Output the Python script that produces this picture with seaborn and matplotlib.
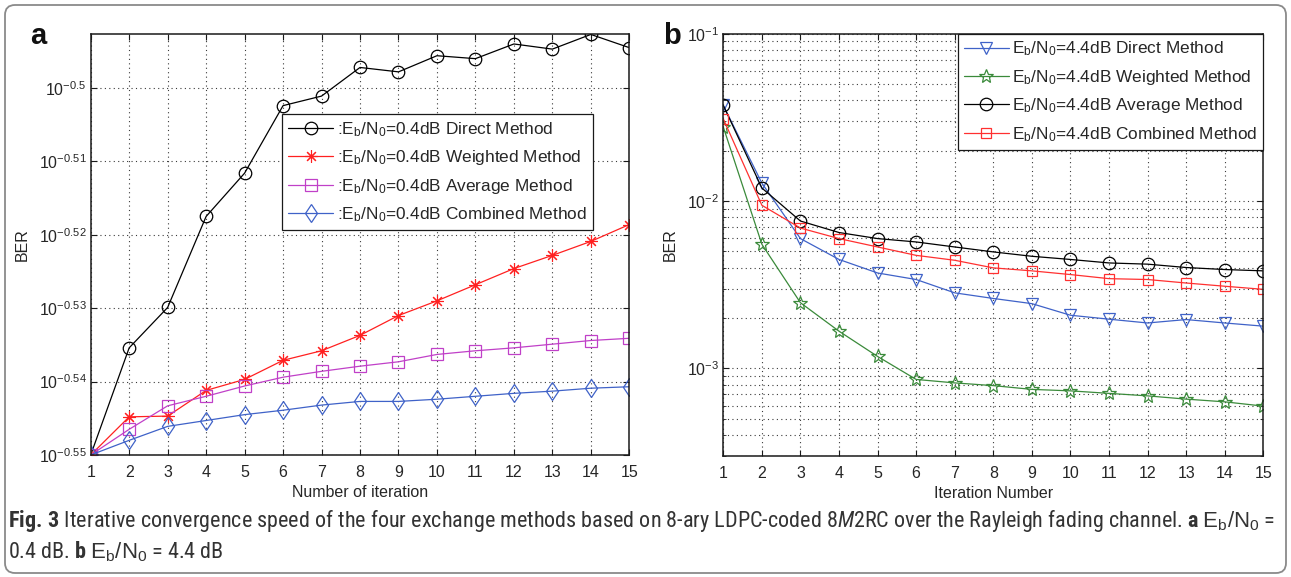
import numpy as np
import pandas as pd
import matplotlib
matplotlib.use("Agg")
import matplotlib.pyplot as plt
import seaborn as sns
from matplotlib import font_manager
from matplotlib.ticker import FixedLocator, NullLocator, FixedFormatter, NullFormatter, LogLocator
from matplotlib.patches import FancyBboxPatch
from matplotlib.transforms import IdentityTransform

# ---------------- data ----------------
iterations = list(range(1, 16))

# panel a : log10(BER)
a_direct_log10 = [-0.5500, -0.5354, -0.5299, -0.5175, -0.5116, -0.5024, -0.5011, -0.4972,
                  -0.4978, -0.4956, -0.4960, -0.4940, -0.4947, -0.4927, -0.4945]
a_weighted_log10 = [-0.5500, -0.5448, -0.5447, -0.5412, -0.5397, -0.5371, -0.5358, -0.5337,
                    -0.5310, -0.5290, -0.5268, -0.5246, -0.5228, -0.5209, -0.5186]
a_average_log10 = [-0.5500, -0.5465, -0.5433, -0.5420, -0.5406, -0.5394, -0.5386, -0.5379,
                   -0.5373, -0.5363, -0.5358, -0.5354, -0.5349, -0.5344, -0.5341]
a_combined_log10 = [-0.5500, -0.5480, -0.5461, -0.5453, -0.5445, -0.5439, -0.5432, -0.5427,
                    -0.5427, -0.5424, -0.5420, -0.5416, -0.5413, -0.5409, -0.5407]
a_ytick_exp = [-0.55, -0.54, -0.53, -0.52, -0.51, -0.5]
a_ytick_labels = ["-0.55", "-0.54", "-0.53", "-0.52", "-0.51", "-0.5"]

# panel b : BER
b_direct = [0.0373, 0.0128, 0.00597, 0.00448, 0.00372, 0.00340, 0.00283, 0.00262,
            0.00244, 0.00208, 0.00197, 0.00187, 0.00196, 0.00187, 0.00179]
b_weighted = [0.0277, 0.00552, 0.00247, 0.00167, 0.00118, 0.00086, 0.00082, 0.00079,
              0.00075, 0.000735, 0.00071, 0.000686, 0.000656, 0.000632, 0.000596]
b_average = [0.0373, 0.01197, 0.00760, 0.00649, 0.00597, 0.00570, 0.00532, 0.00497,
             0.00468, 0.00448, 0.00427, 0.00420, 0.00401, 0.00390, 0.00383]
b_combined = [0.0310, 0.00944, 0.00690, 0.00597, 0.00532, 0.00474, 0.00443, 0.00399,
              0.00383, 0.00364, 0.00344, 0.00340, 0.00324, 0.00310, 0.00297]
b_ytick_exp = [-3, -2, -1]

a_labels = [r":$\mathregular{E_b/N_0}$=0.4dB Direct Method",
            r":$\mathregular{E_b/N_0}$=0.4dB Weighted Method",
            r":$\mathregular{E_b/N_0}$=0.4dB Average Method",
            r":$\mathregular{E_b/N_0}$=0.4dB Combined Method"]
b_labels = [r"$\mathregular{E_b/N_0}$=4.4dB Direct Method",
            r"$\mathregular{E_b/N_0}$=4.4dB Weighted Method",
            r"$\mathregular{E_b/N_0}$=4.4dB Average Method",
            r"$\mathregular{E_b/N_0}$=4.4dB Combined Method"]

# ---------------- style ----------------
sns.set_theme(style="white")
plt.rcParams["font.family"] = ["Liberation Sans", "DejaVu Sans"]

installed = {f.name for f in font_manager.fontManager.ttflist}
cap_main = "Roboto Condensed" if "Roboto Condensed" in installed else (
    "Roboto" if "Roboto" in installed else "DejaVu Sans")
plt.rcParams["mathtext.fontset"] = "custom"
plt.rcParams["mathtext.rm"] = "Liberation Sans"
plt.rcParams["mathtext.it"] = cap_main + ":italic"
plt.rcParams["mathtext.bf"] = cap_main + ":bold"
plt.rcParams["axes.unicode_minus"] = False

TXT = "#262626"
FS = 11.5
LFS = 12.4

fig = plt.figure(figsize=(12.91, 5.77), dpi=100)
fig.patch.set_facecolor("white")

ax_a = fig.add_axes([90.7 / 1291, (577 - 455) / 577, 538.6 / 1291, 421.3 / 577])
ax_b = fig.add_axes([723.3 / 1291, (577 - 456) / 577, 540 / 1291, 422.3 / 577])

grid_kw = dict(color="#3a3a3a", linestyle=(0, (1, 3)), linewidth=0.8)


def draw_series(ax, y, label, color, marker, ms, mew=0.9):
    sns.lineplot(x=iterations, y=y, ax=ax, label=label, color=color,
                 marker=marker, markersize=ms, markerfacecolor="none",
                 markeredgecolor=color, markeredgewidth=mew, linewidth=0.9,
                 estimator=None, sort=False)


# ---- panel a
a_black, a_red, a_mag, a_blue = "#000000", "#ff2020", "#c040c8", "#3f62c8"
draw_series(ax_a, [10 ** v for v in a_direct_log10], a_labels[0], a_black, "o", 9)
draw_series(ax_a, [10 ** v for v in a_weighted_log10], a_labels[1], a_red, (8, 2, 0), 9, 0.8)
draw_series(ax_a, [10 ** v for v in a_average_log10], a_labels[2], a_mag, "s", 8)
draw_series(ax_a, [10 ** v for v in a_combined_log10], a_labels[3], a_blue, "d", 9.5)
ax_a.set_yscale("log")
ax_a.set_xlim(1, 15)
ax_a.set_ylim(10 ** -0.55, 10 ** -0.4926)
ax_a.xaxis.set_major_locator(FixedLocator(iterations))
ax_a.set_xticklabels([str(i) for i in iterations])
ax_a.yaxis.set_major_locator(FixedLocator([10 ** e for e in a_ytick_exp]))
ax_a.yaxis.set_major_formatter(FixedFormatter(
    [r"$\mathregular{10^{%s}}$" % s for s in a_ytick_labels]))
ax_a.yaxis.set_minor_locator(NullLocator())
ax_a.yaxis.set_minor_formatter(NullFormatter())
ax_a.grid(True, which="major", **grid_kw)

# ---- panel b
b_blue, b_green, b_black, b_red = "#3f62c8", "#3a8a3a", "#000000", "#ff3030"
draw_series(ax_b, b_direct, b_labels[0], b_blue, "v", 8)
draw_series(ax_b, b_weighted, b_labels[1], b_green, "*", 10)
draw_series(ax_b, b_average, b_labels[2], b_black, "o", 9)
draw_series(ax_b, b_combined, b_labels[3], b_red, "s", 7.5)
ax_b.set_yscale("log")
ax_b.set_xlim(1, 15)
ax_b.set_ylim(3e-4, 1e-1)
ax_b.xaxis.set_major_locator(FixedLocator(iterations))
ax_b.set_xticklabels([str(i) for i in iterations])
ax_b.yaxis.set_major_locator(FixedLocator([10.0 ** e for e in b_ytick_exp]))
ax_b.yaxis.set_major_formatter(FixedFormatter(
    [r"$\mathregular{10^{%d}}$" % e for e in b_ytick_exp]))
ax_b.yaxis.set_minor_locator(LogLocator(base=10, subs=np.arange(2, 10), numticks=20))
ax_b.yaxis.set_minor_formatter(NullFormatter())
ax_b.grid(True, which="major", **grid_kw)
ax_b.grid(True, which="minor", axis="y", **grid_kw)

for ax, xl in ((ax_a, "Number of iteration"), (ax_b, "Iteration Number")):
    for sp in ax.spines.values():
        sp.set_visible(True)
        sp.set_color("#1a1a1a")
        sp.set_linewidth(1.1)
    ax.tick_params(axis="both", which="major", direction="in", length=4, width=0.8,
                   top=True, right=True, bottom=True, left=True, labelsize=FS,
                   colors="#1a1a1a", labelcolor=TXT)
    ax.tick_params(axis="x", pad=7)
    ax.tick_params(axis="y", pad=3)
    ax.tick_params(axis="both", which="minor", direction="in", length=2.5, width=0.6,
                   top=True, right=True, left=True)
    ax.set_xlabel(xl, fontsize=FS, color=TXT, labelpad=4)
    ax.set_ylabel("BER", fontsize=FS, color=TXT)
    ax.set_facecolor("white")

ax_a.yaxis.set_label_coords(-0.1127, 0.5)
ax_b.yaxis.set_label_coords(-0.084, 0.5)

leg_kw = dict(fontsize=LFS, frameon=True, fancybox=False, shadow=False, framealpha=1,
              edgecolor="#1a1a1a", borderaxespad=0, handlelength=2.6,
              handletextpad=0.2, labelspacing=0.55, borderpad=0.35)
la = ax_a.legend(loc="upper left", bbox_to_anchor=(0.356, 0.809), **leg_kw)
lb = ax_b.legend(loc="upper right", bbox_to_anchor=(1.0, 1.0), **leg_kw)
for lg in (la, lb):
    lg.get_frame().set_linewidth(0.9)
    for t in lg.get_texts():
        t.set_color(TXT)

# panel letters
fig.text(30 / 1291, 1 - 43.5 / 577, "a", fontsize=21, fontweight="bold",
         color="#111111", ha="left", va="baseline")
fig.text(663 / 1291, 1 - 43.5 / 577, "b", fontsize=21, fontweight="bold",
         color="#111111", ha="left", va="baseline")

# caption
cap_family = [cap_main, "DejaVu Sans"]
line1 = (r"$\mathbf{Fig.\,3}$ Iterative convergence speed of the four exchange methods based on "
         r"8-ary LDPC-coded 8$\mathit{M}$2RC over the Rayleigh fading channel. "
         r"$\mathbf{a}$ $\mathrm{E_b/N_0}$ =")
line2 = r"0.4 dB. $\mathbf{b}$ $\mathrm{E_b/N_0}$ = 4.4 dB"
cap_fs = 13
t1 = fig.text(8 / 1291, 1 - 521.5 / 577, line1, fontsize=cap_fs, family=cap_family,
              color="#333333", ha="left", va="center")
t2 = fig.text(8 / 1291, 1 - 552 / 577, line2, fontsize=cap_fs, family=cap_family,
              color="#333333", ha="left", va="center")
fig.canvas.draw()
w = t1.get_window_extent().width
new_fs = cap_fs * 1262 / w
t1.set_fontsize(new_fs)
t2.set_fontsize(new_fs)

# rounded figure border (pixel coordinates)
border = FancyBboxPatch((5, 4), 1281, 568, boxstyle="round,pad=0,rounding_size=10",
                        transform=IdentityTransform(), facecolor="none",
                        edgecolor="#8a8a8a", linewidth=1.3, zorder=-1)
fig.patches.append(border)

fig.savefig("out.png", dpi=100, facecolor="white")
